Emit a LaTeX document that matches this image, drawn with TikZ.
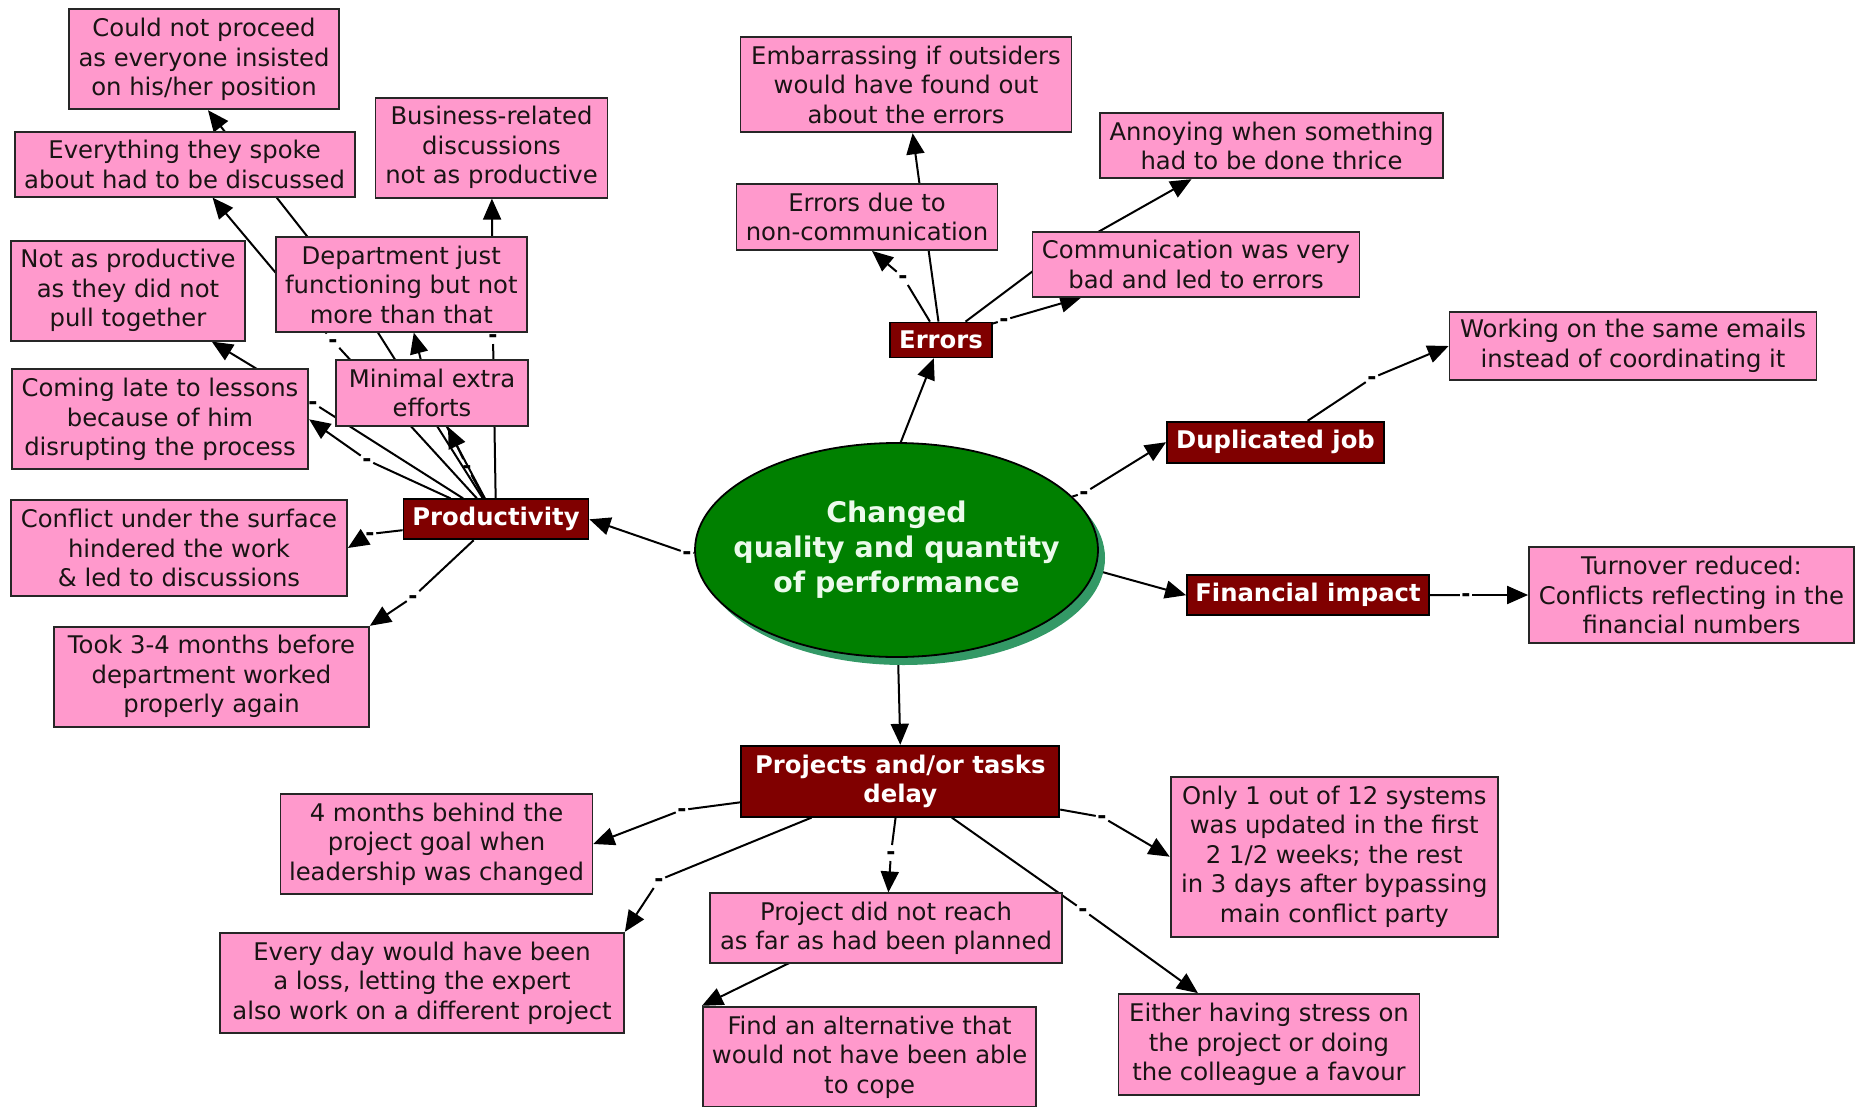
\documentclass[tikz,border=0pt]{standalone}
\usepackage{fontspec}
\setmainfont{DejaVu Sans}
\usetikzlibrary{arrows.meta,shapes.geometric,shadows}
\definecolor{notepink}{RGB}{255,153,204}
\definecolor{conceptred}{RGB}{128,0,0}
\definecolor{rootgreen}{RGB}{0,128,0}
\definecolor{rootshadow}{RGB}{51,153,102}
\definecolor{roottext}{RGB}{235,250,235}
\definecolor{notetext}{RGB}{25,20,20}
\pgfdeclarelayer{background}
\pgfsetlayers{background,main}

\begin{document}
\begin{tikzpicture}[x=1pt,y=-1pt,
  note/.style={draw=black!85, line width=1.8pt, fill=notepink, align=center,
    inner sep=0pt, text=notetext, font=\fontsize{24.3}{29.5}\selectfont},
  concept/.style={draw=black, line width=1.8pt, fill=conceptred, text=white,
    align=center, inner sep=0pt, font=\bfseries\fontsize{24.3}{29.5}\selectfont},
  phrase/.style={inner sep=1.5pt, text height=12.6pt, text depth=0pt,
    font=\bfseries\fontsize{22}{22}\selectfont},
  link/.style={line width=2pt, black},
  arrowlink/.style={link, -{Triangle[length=21pt,width=18pt]}},
]
\useasboundingbox (0,0) rectangle (1858,1106);

% ---- central concept ----
\node[ellipse, draw=black, line width=1.8pt, fill=rootgreen,
      minimum width=403pt, minimum height=214pt, inner sep=0pt,
      drop shadow={shadow xshift=7pt, shadow yshift=-8pt, fill=rootshadow, opacity=1}]
      (root) at (896.5,550) {};
\node[align=center, text=roottext, font=\bfseries\fontsize{28.4}{35}\selectfont]
      (rootlabel) at (896.5,550) {Changed\\quality and quantity\\of performance};

% ---- main branches ----
\node[concept, minimum width=185pt, minimum height=40pt] (prod) at (496,519.3) {Productivity};
\node[concept, minimum width=102pt, minimum height=35pt] (errors) at (941,340) {Errors};
\node[concept, minimum width=217pt, minimum height=41pt] (dup) at (1275.5,442.2) {Duplicated job};
\node[concept, minimum width=242pt, minimum height=40pt] (fin) at (1308,595.2) {Financial impact};
\node[concept, minimum width=318pt, minimum height=71pt] (projects) at (900.3,781.2) {Projects and/or tasks\\delay};

% ---- productivity notes ----
\node[note, minimum width=270pt, minimum height=100pt] (couldnot) at (204,59.3) {Could not proceed\\as everyone insisted\\on his/her position};
\node[note, minimum width=340pt, minimum height=65pt] (every) at (184.6,164.2) {Everything they spoke\\about had to be discussed};
\node[note, minimum width=232pt, minimum height=100pt] (business) at (491.5,147.7) {Business-related\\discussions\\not as productive};
\node[note, minimum width=234.5pt, minimum height=100pt] (notprod) at (128,290.7) {Not as productive\\as they did not\\pull together};
\node[note, minimum width=250.7pt, minimum height=94.4pt] (dept) at (401.3,284.5) {Department just\\functioning but not\\more than that};
\node[note, minimum width=192pt, minimum height=66pt] (minimal) at (432,393) {Minimal extra\\efforts};
\node[note, minimum width=296.5pt, minimum height=100pt] (coming) at (160,419.3) {Coming late to lessons\\because of him\\disrupting the process};
\node[note, minimum width=336pt, minimum height=96pt] (conflict) at (179,548) {Conflict under the surface\\hindered the work\\\& led to discussions};
\node[note, minimum width=315pt, minimum height=100pt] (took) at (211.5,676.7) {Took 3-4 months before\\department worked\\properly again};

% ---- error notes ----
\node[note, minimum width=261pt, minimum height=66pt] (errdue) at (867,217) {Errors due to\\non-communication};
\node[note, minimum width=331pt, minimum height=95.6pt] (embarr) at (906,84.5) {Embarrassing if outsiders\\would have found out\\about the errors};
\node[note, minimum width=343pt, minimum height=65pt] (annoy) at (1271.5,145.8) {Annoying when something\\had to be done thrice};
\node[note, minimum width=327pt, minimum height=65pt] (commun) at (1196,264.2) {Communication was very\\bad and led to errors};

% ---- duplicated job / financial notes ----
\node[note, minimum width=367pt, minimum height=68pt] (working) at (1633,346) {Working on the same emails\\instead of coordinating it};
\node[note, minimum width=325pt, minimum height=96pt] (turnover) at (1691.5,595) {Turnover reduced:\\Conflicts reflecting in the\\financial numbers};

% ---- project notes ----
\node[note, minimum width=312pt, minimum height=100pt] (fourmonths) at (436.5,844) {4 months behind the\\project goal when\\leadership was changed};
\node[note, minimum width=404pt, minimum height=100.6pt] (everyday) at (422,983) {Every day would have been\\a loss, letting the expert\\also work on a different project};
\node[note, minimum width=352pt, minimum height=70pt] (projnot) at (886,928.3) {Project did not reach\\as far as had been planned};
\node[note, minimum width=333.5pt, minimum height=100.6pt] (findalt) at (869.6,1057) {Find an alternative that\\would not have been able\\to cope};
\node[note, minimum width=327.4pt, minimum height=160pt] (only) at (1334.3,856.7) {Only 1 out of 12 systems\\was updated in the first\\2 1/2 weeks; the rest\\in 3 days after bypassing\\main conflict party};
\node[note, minimum width=301pt, minimum height=101pt] (either) at (1269,1044.5) {Either having stress on\\the project or doing\\the colleague a favour};

% ---- linking phrases ----
\node[phrase] (ph-root-prod) at (687,553) {-};
\node[phrase] (ph-root-dup) at (1084,493) {-};
\node[phrase] (ph-prod-notprod) at (313,403) {-};
\node[phrase] (ph-prod-coming) at (367,460) {-};
\node[phrase] (ph-prod-every) at (333,341) {-};
\node[phrase] (ph-prod-min) at (467,467) {-};
\node[phrase] (ph-prod-bus) at (493,336) {-};
\node[phrase] (ph-prod-conf) at (370,534) {-};
\node[phrase] (ph-prod-took) at (413,597) {-};
\node[phrase] (ph-err-due) at (903,277) {-};
\node[phrase] (ph-err-com) at (1004,320) {-};
\node[phrase] (ph-dup-work) at (1372,378) {-};
\node[phrase] (ph-fin-turn) at (1466,595) {-};
\node[phrase] (ph-proj-four) at (682,810) {-};
\node[phrase] (ph-proj-every) at (659,880) {-};
\node[phrase] (ph-proj-not) at (891,853) {-};
\node[phrase] (ph-proj-only) at (1102,817) {-};
\node[phrase] (ph-proj-either) at (1083,910) {-};

% phrases that sit behind other concepts
\coordinate (hid-root-err) at (878,500);
\coordinate (hid-root-fin) at (1095,570);
\coordinate (hid-root-proj) at (898,655);
\coordinate (hid-prod-could) at (358,301);
\coordinate (hid-prod-dept) at (430,395);
\coordinate (hid-err-emb) at (924,217);
\coordinate (hid-err-ann) at (1045,262);
\coordinate (hid-not-find) at (826,945);

\begin{pgfonlayer}{background}
% central concept
\draw[link] (root) -- (ph-root-prod);
\draw[arrowlink] (ph-root-prod) -- (prod.east);
\draw[arrowlink] (hid-root-err) -- (errors);
\draw[link] (root) -- (ph-root-dup);
\draw[arrowlink] (ph-root-dup) -- (dup.west);
\draw[arrowlink] (hid-root-fin) -- (fin.west);
\draw[arrowlink] (hid-root-proj) -- (projects.north);

% productivity
\draw[link] (prod) -- (ph-prod-notprod);
\draw[arrowlink] (ph-prod-notprod) -- (notprod);
\draw[link] (prod) -- (ph-prod-coming);
\draw[arrowlink] (ph-prod-coming) -- (coming.east);
\draw[link] (prod) -- (ph-prod-every);
\draw[arrowlink] (ph-prod-every) -- (every);
\draw[link] (prod) -- (hid-prod-could);
\draw[arrowlink] (hid-prod-could) -- ([xshift=4pt]couldnot.south);
\draw[link] (prod) -- (hid-prod-dept);
\draw[arrowlink] (hid-prod-dept) -- (dept);
\draw[link] (prod) -- (ph-prod-min);
\draw[arrowlink] (ph-prod-min) -- (minimal);
\draw[link] (prod) -- (ph-prod-bus);
\draw[arrowlink] (ph-prod-bus) -- (business);
\draw[link] (prod) -- (ph-prod-conf);
\draw[arrowlink] (ph-prod-conf) -- (conflict.east);
\draw[link] (prod) -- (ph-prod-took);
\draw[arrowlink] (ph-prod-took) -- (took.north east);

% errors
\draw[link] (errors) -- (ph-err-due);
\draw[arrowlink] (ph-err-due) -- ([xshift=5pt]errdue.south);
\draw[link] (errors) -- (hid-err-emb);
\draw[arrowlink] (hid-err-emb) -- (embarr);
\draw[link] (errors) -- (ph-err-com);
\draw[arrowlink] (ph-err-com) -- (commun);
\draw[link] (errors) -- (hid-err-ann);
\draw[arrowlink] (hid-err-ann) -- ([xshift=-80pt]annoy.south);

% duplicated job, financial impact
\draw[link] (dup) -- (ph-dup-work);
\draw[arrowlink] (ph-dup-work) -- (working.west);
\draw[link] (fin) -- (ph-fin-turn);
\draw[arrowlink] (ph-fin-turn) -- (turnover.west);

% projects
\draw[link] (projects) -- (ph-proj-four);
\draw[arrowlink] (ph-proj-four) -- (fourmonths.east);
\draw[link] (projects) -- (ph-proj-every);
\draw[arrowlink] (ph-proj-every) -- (everyday.north east);
\draw[link] (projects) -- (ph-proj-not);
\draw[arrowlink] (ph-proj-not) -- (projnot);
\draw[link] (projects) -- (ph-proj-only);
\draw[arrowlink] (ph-proj-only) -- (only.west);
\draw[link] (projects) -- (ph-proj-either);
\draw[arrowlink] (ph-proj-either) -- (either);
\draw[arrowlink] (hid-not-find) -- (findalt.north west);
\end{pgfonlayer}
\end{tikzpicture}
\end{document}
